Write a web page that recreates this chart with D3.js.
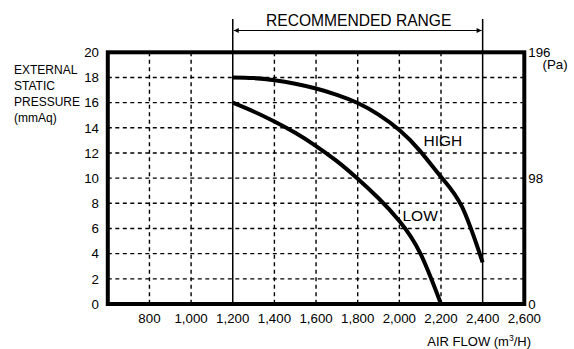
<!DOCTYPE html>
<html>
<head>
<meta charset="utf-8">
<script src="https://cdn.jsdelivr.net/npm/d3@7"></script>
<style>
html,body{margin:0;padding:0;background:#fff;}
svg{display:block;font-family:"Liberation Sans",Arial,sans-serif;}
</style>
</head>
<body>
<svg id="chart" width="574" height="349"></svg>
<script>
// ---- data ----
const xTicks = [800, 1000, 1200, 1400, 1600, 1800, 2000, 2200, 2400, 2600];
const yTicks = [0, 2, 4, 6, 8, 10, 12, 14, 16, 18, 20];
const paTicks = [{v: 0, label: "0"}, {v: 10, label: "98"}, {v: 20, label: "196"}];
const highFlow = [1200, 1300, 1400, 1500, 1600, 1700, 1800, 1900, 2000, 2100, 2200, 2300, 2400];
const highPressure = [18.0, 17.95, 17.78, 17.5, 17.12, 16.62, 15.97, 15.05, 13.82, 12.15, 10.1, 7.75, 3.3];
const lowFlow = [1200, 1300, 1400, 1500, 1600, 1700, 1800, 1900, 2000, 2100, 2200];
const lowPressure = [16.0, 15.3, 14.5, 13.6, 12.55, 11.35, 9.95, 8.4, 6.6, 4.05, 0.0];
const rangeMin = 1200, rangeMax = 2400;

const svg = d3.select("#chart");
const x = d3.scaleLinear().domain([600, 2600]).range([107.8, 524.3]);
const y = d3.scaleLinear().domain([0, 20]).range([304, 52.3]);

// grid
const grid = svg.append("g").attr("stroke", "#000").attr("stroke-width", 1.4).attr("stroke-dasharray", "4,3.5");
grid.selectAll("line.h").data(yTicks.filter(d => d > 0 && d < 20)).join("line")
  .attr("x1", x(600)).attr("x2", x(2600)).attr("y1", d => y(d)).attr("y2", d => y(d));
grid.selectAll("line.v").data(xTicks.filter(d => d < 2600 && d !== rangeMin && d !== rangeMax)).join("line")
  .attr("class", "v")
  .attr("x1", d => x(d)).attr("x2", d => x(d)).attr("y1", y(20)).attr("y2", y(0));

// recommended range lines
svg.selectAll("line.rng").data([rangeMin, rangeMax]).join("line").attr("class", "rng")
  .attr("x1", d => x(d)).attr("x2", d => x(d)).attr("y1", 19).attr("y2", y(0))
  .attr("stroke", "#000").attr("stroke-width", 1.5);

const defs = svg.append("defs");
defs.append("marker").attr("id", "arr").attr("viewBox", "0 0 10 10").attr("refX", 10).attr("refY", 5)
  .attr("markerWidth", 10).attr("markerHeight", 5).attr("markerUnits", "userSpaceOnUse")
  .attr("orient", "auto-start-reverse")
  .append("path").attr("d", "M0,0L10,5L0,10z").attr("fill", "#000");
svg.append("line").attr("x1", x(rangeMin) + 1).attr("x2", x(rangeMax) - 1).attr("y1", 30.5).attr("y2", 30.5)
  .attr("stroke", "#000").attr("stroke-width", 1)
  .attr("marker-start", "url(#arr)").attr("marker-end", "url(#arr)");
svg.append("text").attr("x", (x(rangeMin) + x(rangeMax)) / 2 + 1).attr("y", 25.5)
  .attr("text-anchor", "middle").attr("font-size", 15.6).text("RECOMMENDED RANGE");

// curves
const line = d3.line().x(d => x(d[0])).y(d => y(d[1])).curve(d3.curveNatural);
const high = highFlow.map((f, i) => [f, highPressure[i]]);
const low = lowFlow.map((f, i) => [f, lowPressure[i]]);
svg.append("path").datum(high).attr("d", line).attr("fill", "none").attr("stroke", "#000").attr("stroke-width", 4);
svg.append("path").datum(low).attr("d", line).attr("fill", "none").attr("stroke", "#000").attr("stroke-width", 4);

// frame
svg.append("rect").attr("x", x(600)).attr("y", y(20)).attr("width", x(2600) - x(600)).attr("height", y(0) - y(20))
  .attr("fill", "none").attr("stroke", "#000").attr("stroke-width", 4);

// curve labels
svg.append("text").attr("x", 423.5).attr("y", 146).attr("font-size", 15.5).text("HIGH");
svg.append("text").attr("x", 402.5).attr("y", 220.5).attr("font-size", 15.5).text("LOW");

// y axis labels (left)
svg.append("g").selectAll("text").data(yTicks).join("text")
  .attr("x", 99).attr("y", d => y(d)).attr("dy", "0.36em").attr("text-anchor", "end")
  .attr("font-size", 13.3).text(d => d);

// right Pa labels
svg.append("g").selectAll("text").data(paTicks).join("text")
  .attr("x", 528.3).attr("y", d => y(d.v)).attr("dy", "0.36em")
  .attr("font-size", 13.3).text(d => d.label);
svg.append("text").attr("x", 542.5).attr("y", 69).attr("font-size", 13.3).text("(Pa)");

// x axis labels
svg.append("g").selectAll("text").data(xTicks).join("text")
  .attr("x", d => x(d)).attr("y", 323).attr("text-anchor", "middle")
  .attr("font-size", 13.3).text(d => d3.format(",")(d));

// axis titles
const yt = svg.append("text").attr("font-size", 12);
["EXTERNAL", "STATIC", "PRESSURE", "(mmAq)"].forEach((t, i) => {
  yt.append("tspan").attr("x", 14).attr("y", 74 + i * 16).text(t);
});
const xt = svg.append("text").attr("x", 531).attr("y", 345.5).attr("text-anchor", "end").attr("font-size", 13);
xt.append("tspan").text("AIR FLOW (m");
xt.append("tspan").attr("font-size", 8.5).attr("dy", -5).text("3");
xt.append("tspan").attr("dy", 5).text("/H)");
</script>
</body>
</html>
